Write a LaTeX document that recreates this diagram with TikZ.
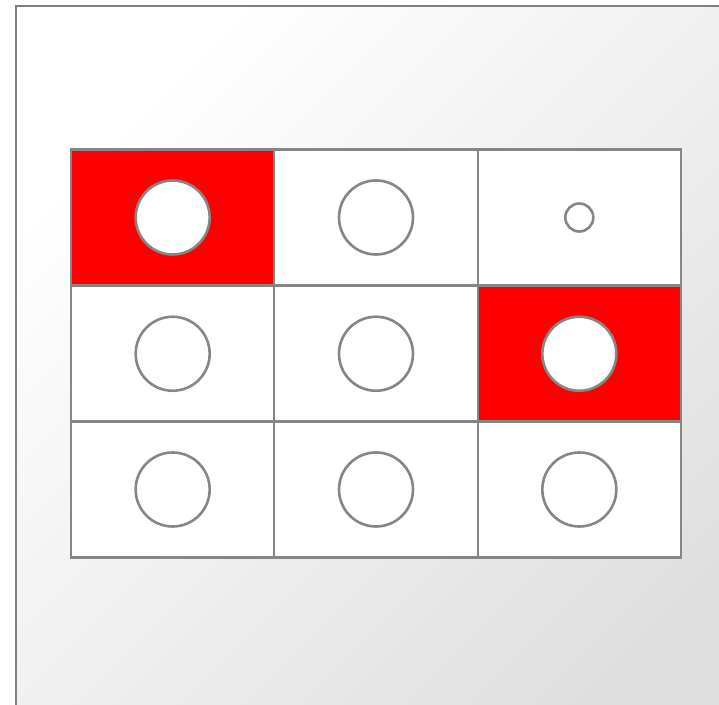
\documentclass[tikz,border=0pt]{standalone}
\begin{document}
\begin{tikzpicture}[x=0.5pt,y=-0.5pt,
  cell/.style={draw=gray!95!white, line width=1.1pt, fill=white, minimum width=101.67pt, minimum height=68pt, inner sep=0pt, outer sep=0pt},
  hot/.style={cell, fill=red},
  dot/.style={circle, draw=gray!95!white, line width=1.3pt, fill=white, minimum size=37pt, inner sep=0pt},
  smalldot/.style={dot, minimum size=14pt}]
\useasboundingbox (0,0) rectangle (719,705);
\clip (0,0) rectangle (719,705);
\fill[white] (0,0) rectangle (719,705);
\shade[shading=axis, top color=white, bottom color=gray!25, shading angle=45] (16,6) rectangle (760,745);
\draw[gray, line width=1.1pt] (16,745) -- (16,6) -- (760,6);
% grid cells
\node[hot]  (c11) at (172.67,217.5) {};
\node[cell] (c12) at (376,217.5) {};
\node[cell] (c13) at (579.33,217.5) {};
\node[cell] (c21) at (172.67,353.75) {};
\node[cell] (c22) at (376,353.75) {};
\node[hot]  (c23) at (579.33,353.75) {};
\node[cell] (c31) at (172.67,489.5) {};
\node[cell] (c32) at (376,489.5) {};
\node[cell] (c33) at (579.33,489.5) {};
% circles
\node[dot] (d11) at (c11) {};
\node[dot] (d12) at (c12) {};
\node[smalldot] (d13) at (c13) {};
\node[dot] (d21) at (c21) {};
\node[dot] (d22) at (c22) {};
\node[dot] (d23) at (c23) {};
\node[dot] (d31) at (c31) {};
\node[dot] (d32) at (c32) {};
\node[dot] (d33) at (c33) {};
\end{tikzpicture}
\end{document}
